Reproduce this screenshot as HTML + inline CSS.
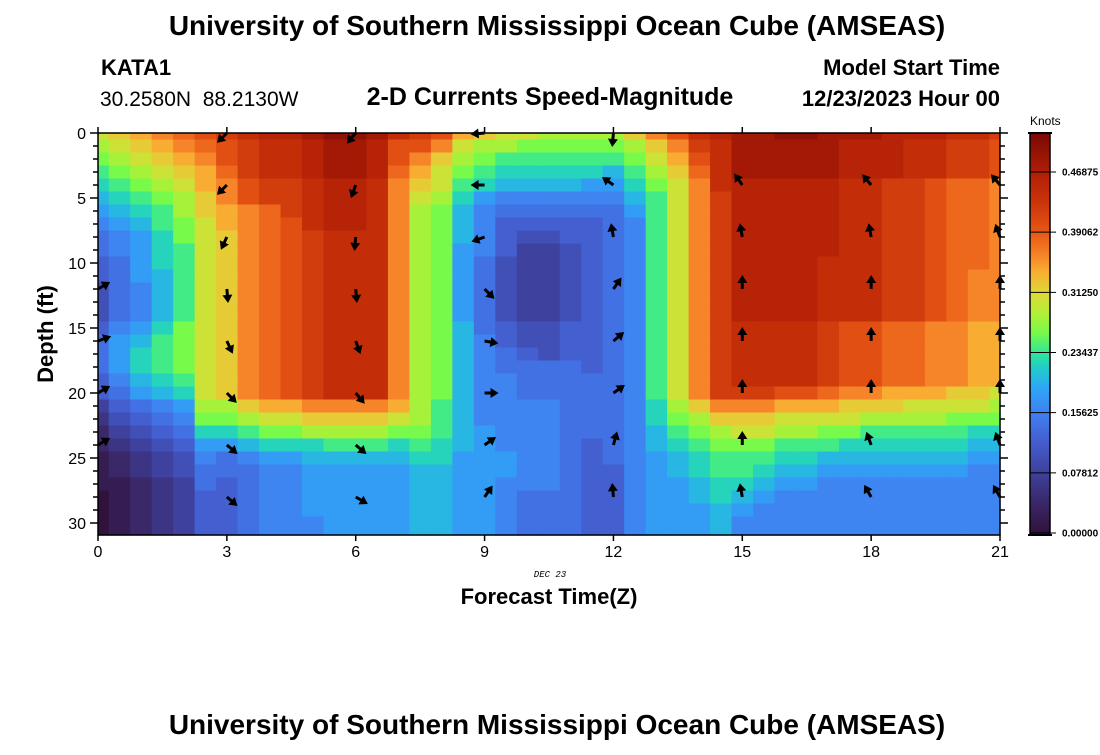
<!DOCTYPE html>
<html><head><meta charset="utf-8"><style>
html,body{margin:0;padding:0;background:#fff;}
body{width:1100px;height:750px;overflow:hidden;font-family:"Liberation Sans",sans-serif;}
svg text{font-family:"Liberation Sans",sans-serif;}
</style></head><body>
<svg id="chart" width="1100" height="750" xmlns="http://www.w3.org/2000/svg">
<text x="557" y="35" font-size="28" font-weight="bold" text-anchor="middle">University of Southern Mississippi Ocean Cube (AMSEAS)</text>
<text x="101" y="75" font-size="22" font-weight="bold">KATA1</text>
<text x="100" y="106" font-size="21" xml:space="preserve" style="white-space:pre">30.2580N  88.2130W</text>
<text x="550" y="105" font-size="25" font-weight="bold" text-anchor="middle">2-D Currents Speed-Magnitude</text>
<text x="1000" y="75" font-size="22" font-weight="bold" text-anchor="end">Model Start Time</text>
<text x="1000" y="106" font-size="22" font-weight="bold" text-anchor="end">12/23/2023 Hour 00</text>
<g id="heat"></g>
<g id="arrows"></g>
<g id="axes"></g>
<text transform="translate(53,334) rotate(-90)" font-size="22" font-weight="bold" text-anchor="middle">Depth (ft)</text>
<text x="550" y="577" font-size="9" font-style="italic" text-anchor="middle" style="font-family:'Liberation Mono',monospace">DEC 23</text>
<text x="549" y="604" font-size="22" font-weight="bold" text-anchor="middle">Forecast Time(Z)</text>
<text x="1030" y="125" font-size="12">Knots</text>
<g id="cbar"></g>
<text x="557" y="734" font-size="28" font-weight="bold" text-anchor="middle">University of Southern Mississippi Ocean Cube (AMSEAS)</text>
</svg>
<script>
// Speed grid: one string per forecast column (t = 0, 0.5, ... 21 h), one char per depth 0..31 ft.
// a=0.00, b=0.02, ... z=0.50 knots
const speedColumns = [
"ponmlkjihhggfffghhhggedccbbbaaaa",
"qponmlkjiihhhhhijjjihgfedccbbbbb",
"rqponmlkjjjjiiijkllkjhgfeddccccc",
"srqponmmlllkkkklmmmlkihgfeeddddd",
"tsrqpoonnmmmmmmnnnnmljihgffeeeee",
"utsrrqqpppppppppppppponljihhgggg",
"vuutssrrqqqqqqqqqqqqqonljhhggggg",
"wvvvuusssssssssssssssqomkihhhhhh",
"xwwwvvtttttttttttttttrpnljiiiiii",
"xwwwvvvuuuuuuuuuuuuuurpnljiiiiii",
"yxxxwwwwvvvvvvvvvvvvvsqolkjjjjii",
"zyyyxxxxwwwwwwwwwwwwwsqomkjjjjjj",
"zyyyxxxxwwwwwwwwwwwwwsqomkjjjjjj",
"yxxxwwwwwwwwwwwwwwwwwsqomkjjjjjj",
"wuutsssssssssssssssssrpnlkjjjjjj",
"vusrqpooooooooooooooooonmlkkkkkk",
"usqpponnnnnnnnnnnnnnnmmmllkkkkkk",
"rponmlkkkjjjjjjkkkkkkkkkkjjjjjjj",
"qonmljiiiihhhhhhiiiiiiijjjjjjjjj",
"pomlkihgggfffffgghhiiiiiijjiiiii",
"pnmlkihgfeeeeeeffghhhiiiiiiihhhh",
"onmlkihgfeeeeeefffhhhiiiiiiihhhh",
"onmlkihggffffffggghhhhhhhhhhhhhh",
"onmljihgggggggggggghhhhhgggggggg",
"onmkjihhhhhhhhhhhhhhhhhhhhgggggg",
"qonmlkjiiiiiiiiiiiiiiiiiiiiiiiii",
"sqponmmmmmmmmmmmmmmmmllkkjjjjjjj",
"usrq"+"ppppp"+"ppppp"+"ppppp"+"pp"+"onmlkkjjjjj",
"wvutsssssssssssssssss"+"qonmllkkjjj",
"xwwwwvvvvvvvvvvvvvvvvsqonmmllkkk",
"yyyyxxxxxxxxxxxwwwwwvsqpnmmlkjii",
"yyyyxxxxxxxxxxxwwwwwvsqpnmlkjiii",
"zyyyxxxxxxxxxxxwwwwwurpomlkjiiii",
"zyyyxxxxxxxxxxxwwwwwurpomlkjiiii",
"yyyyxxxxxxwwwwwvvvvvtrpnmkjiiiii",
"yxxxwwwwwwwwwwwuuuuusqpnlkjiiiii",
"yxxxwwwwwwwwwwwuuuuusqomlkjiiiii",
"xxxxvvvvvvvvvvvtttttrqomlkjiiiii",
"xwwwvvvvvvvvvvvtttttrpomlkjiiiii",
"xwwwuuuuuuuuuuusssssrpomlkjiiiii",
"wvvvtttttttttttsssssqpnmlkjiiiii",
"wvvvtttttttssssrrrrrqpnlkjiiiiii",
"vuuusssssssssssrrrrrponlkjiiiiii"
];
const timeTicks = [0,3,6,9,12,15,18,21];
const depthTicks = [0,5,10,15,20,25,30];
const cbarTicks = [0,0.078125,0.15625,0.234375,0.3125,0.390625,0.46875];
const cbarLabels = ["0.00000","0.07812","0.15625","0.23437","0.31250","0.39062","0.46875"];
const arrowTimes = [0,3,6,9,12,15,18,21];
const arrowDepths = [0,4,8,12,16,20,24,28];
// arrow direction (screen degrees, 0=east, 90=down) per time column, per depth
const arrowDirT0  = [135,135,135,-30,-20,-30,-30,180];
const arrowDirT3  = [135,135,115,85,65,45,40,40];
const arrowDirT6  = [130,110,95,85,70,50,40,30];
const arrowDirT9  = [175,180,160,45,10,0,-35,-55];
const arrowDirT12 = [95,-145,-100,-55,-40,-35,-75,-95];
const arrowDirT15 = [null,-125,-100,-90,-90,-90,-90,-100];
const arrowDirT18 = [null,-130,-100,-90,-90,-90,-110,-120];
const arrowDirT21 = [null,-130,-110,-90,-90,-90,-110,-120];
const arrowDirs = [arrowDirT0,arrowDirT3,arrowDirT6,arrowDirT9,arrowDirT12,arrowDirT15,arrowDirT18,arrowDirT21];

const NS='http://www.w3.org/2000/svg';
const L=98,R=1000,T=133,B=535;
const xOf=t=>L+t*(R-L)/21;
const yOf=d=>T+d*13;
// colour scale stops (knots -> rgb), sampled from the reference colour bar
const CM=[[0,48,18,59],[0.04,58,40,105],[0.078,62,65,155],[0.117,68,92,205],[0.156,64,128,242],[0.19,45,168,245],[0.215,32,205,200],[0.234,50,230,150],[0.26,120,250,75],[0.285,178,240,55],[0.3125,225,215,55],[0.34,248,172,50],[0.36,246,132,40],[0.39,232,88,22],[0.43,202,52,10],[0.469,176,30,6],[0.52,122,8,4]];
function cmap(v){
 if(v<=CM[0][0])return 'rgb('+CM[0][1]+','+CM[0][2]+','+CM[0][3]+')';
 for(let i=1;i<CM.length;i++){if(v<=CM[i][0]){const a=CM[i-1],b=CM[i],f=(v-a[0])/(b[0]-a[0]);
  return 'rgb('+Math.round(a[1]+f*(b[1]-a[1]))+','+Math.round(a[2]+f*(b[2]-a[2]))+','+Math.round(a[3]+f*(b[3]-a[3]))+')';}}
 const l=CM[CM.length-1];return 'rgb('+l[1]+','+l[2]+','+l[3]+')';}
function mk(tag,attrs,parent){const e=document.createElementNS(NS,tag);for(const k in attrs)e.setAttribute(k,attrs[k]);parent.appendChild(e);return e;}

const heat=document.getElementById('heat');
speedColumns.forEach((col,i)=>{
 const t=i*0.5;
 const x0=Math.max(L,xOf(t-0.25)), x1=Math.min(R,xOf(t+0.25));
 for(let j=0;j<col.length;j++){
  const v=(col.charCodeAt(j)-97)*0.02;
  const y0=Math.max(T,yOf(j-0.5)), y1=Math.min(B,yOf(j+0.5));
  if(y1<=y0)continue;
  const r=mk('rect',{x:x0,y:y0,width:x1-x0+0.6,height:y1-y0+0.6,fill:cmap(v)},heat);
  
  
 }
});

// arrows
const arrows=document.getElementById('arrows');
const cp=mk('clipPath',{id:'pc'},arrows);
mk('rect',{x:L,y:T-8,width:R-L+6,height:B-T+8},cp);
const ag=mk('g',{'clip-path':'url(#pc)'},arrows);
arrowTimes.forEach((t,i)=>{arrowDepths.forEach((d,j)=>{
 const a=arrowDirs[i][j]; if(a===null)return;
 const x=xOf(t), y=yOf(d);
 const g=mk('g',{transform:'translate('+x+','+y+') rotate('+a+')'},ag);
 
 
 mk('line',{x1:0,y1:0,x2:8,y2:0,stroke:'#000','stroke-width':3},g);
 mk('polygon',{points:'14,0 6,-5 6,5',fill:'#000'},g);
});});

// axes
const ax=document.getElementById('axes');
mk('rect',{x:L,y:T,width:R-L,height:B-T,fill:'none',stroke:'#000','stroke-width':1.5},ax);
for(let d=0;d<=31;d++){const y=yOf(d);if(y>B)break;const big=d%5===0;
 mk('line',{x1:L-(big?8:5),y1:y,x2:L,y2:y,stroke:'#000','stroke-width':1.5},ax);
 mk('line',{x1:R,y1:y,x2:R+(big?8:5),y2:y,stroke:'#000','stroke-width':1.5},ax);}
depthTicks.forEach(d=>{const t=mk('text',{x:86,y:yOf(d)+6,'font-size':16,'text-anchor':'end'},ax);t.textContent=d;
 
 });
timeTicks.forEach(tt=>{const x=xOf(tt);
 mk('line',{x1:x,y1:T-6,x2:x,y2:T,stroke:'#000','stroke-width':1.5},ax);
 mk('line',{x1:x,y1:B,x2:x,y2:B+6,stroke:'#000','stroke-width':1.5},ax);
 const t=mk('text',{x:x,y:557,'font-size':16,'text-anchor':'middle'},ax);t.textContent=tt;
 
 });

// colorbar
const cb=document.getElementById('cbar');
const cbX=1030,cbW=20,cbTop=133,cbBot=535;
const cbY=v=>533-v*(533-172)/0.46875;
for(let y=cbTop;y<cbBot;y++){const v=(533-y-0.5)*0.46875/(533-172);
 mk('rect',{x:cbX,y:y,width:cbW,height:1.2,fill:cmap(Math.max(0,v))},cb);}
mk('rect',{x:cbX,y:cbTop,width:cbW,height:cbBot-cbTop,fill:'none',stroke:'#000','stroke-width':1.5},cb);
mk('line',{x1:cbX-2,y1:cbTop,x2:cbX+cbW+2,y2:cbTop,stroke:'#000','stroke-width':2},cb);
mk('line',{x1:cbX-2,y1:cbBot,x2:cbX+cbW+2,y2:cbBot,stroke:'#000','stroke-width':2},cb);
cbarTicks.forEach((v,i)=>{const y=cbY(v);
 mk('line',{x1:cbX,y1:y,x2:cbX+cbW+6,y2:y,stroke:'#000','stroke-width':1},cb);
 const t=mk('text',{x:1062,y:y+3.5,'font-size':10,'font-weight':'bold'},cb);t.textContent=cbarLabels[i];
 
 });
</script>
</body></html>
